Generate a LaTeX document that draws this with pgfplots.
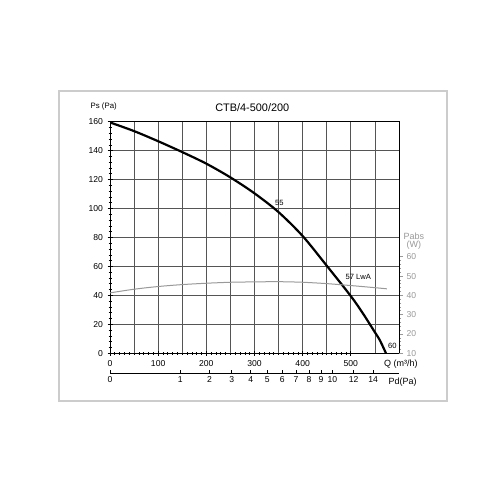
\documentclass[border=0pt]{standalone}
\usepackage{fontspec}
\setmainfont{Liberation Sans}
\usepackage{pgfplots}
\pgfplotsset{compat=1.18}
\definecolor{gridc}{HTML}{555555}
\definecolor{grayc}{HTML}{999999}
\definecolor{framec}{HTML}{CCCCCC}
\begin{document}
\begin{tikzpicture}[x=1pt,y=1pt]
\path[fill=white] (0,0) rectangle (500,500);
\draw[framec,line width=1.5pt] (59,99) rectangle (447,409);
% main axis
\begin{axis}[
  at={(110pt,146.7pt)}, anchor=south west,
  scale only axis, width=289pt, height=231.6pt,
  xmin=0, xmax=600, ymin=0, ymax=160,
  xtick={0,100,...,500}, ytick={0,20,...,160},
  extra x ticks={50,150,...,550}, extra x tick labels={},
  extra x tick style={grid=major, major tick length=0pt},
  minor x tick num=9, minor y tick num=4,
  xtick pos=bottom, ytick pos=left,
  tick align=center, major tick length=5pt, minor tick length=3pt,
  grid=major,
  major grid style={gridc, line width=0.8pt},
  axis line style={black, line width=1pt},
  tick style={black, line width=0.7pt},
  ticklabel style={font=\fontsize{8.6}{9}\selectfont},
  /pgf/number format/assume math mode=true,
  yticklabel style={xshift=-1pt},
  xticklabel style={yshift=-1pt},
]
\addplot[black, line width=2.2pt, smooth, tension=0.5] coordinates {
(0,159.5) (50,153.5) (100,146.5) (150,139) (200,131) (250,121.5)
(300,110.5) (350,97.5) (400,81) (450,60.5) (500,39.5) (525,27.6)
(550,14.5) (560,9.2) (573,0)};
\end{axis}
% right axis Pabs
\begin{axis}[
  at={(110pt,146.7pt)}, anchor=south west,
  scale only axis, width=289pt, height=231.6pt,
  xmin=0, xmax=600, ymin=10, ymax=130,
  axis y line*=right, axis x line=none,
  ytick={10,20,...,60}, minor y tick num=4,
  tick align=outside, major tick length=4pt, minor tick length=2pt,
  axis line style={black, line width=1pt},
  tick style={grayc, line width=0.7pt},
  ticklabel style={font=\fontsize{8.6}{9}\selectfont, text=grayc},
  /pgf/number format/assume math mode=true,
]
\addplot[grayc, line width=1pt, smooth] coordinates {
(0,41.3) (50,43.2) (100,44.6) (150,45.6) (200,46.3) (250,46.8)
(300,47.0) (350,47.1) (400,46.8) (450,46.1) (500,45.1) (550,44.0) (575,43.4)};
\end{axis}
% Pd axis
\begin{axis}[
  at={(110pt,126.7pt)}, anchor=south west,
  scale only axis, width=289pt, height=1pt,
  xmin=0, xmax=600, ymin=0, ymax=1,
  axis x line*=bottom, axis y line=none,
  xtick={0,146,206.5,252.9,292,326.5,357.6,386.3,413,438,461.7,505.8,546.3},
  xticklabels={0,1,2,3,4,5,6,7,8,9,10,12,14},
  tick align=inside, major tick length=3pt,
  axis line style={black, line width=1pt},
  tick style={black, line width=0.7pt},
  ticklabel style={font=\fontsize{8.6}{9}\selectfont},
]
\addplot[draw=none] coordinates {(0,0) (600,0)};
\end{axis}
% texts
\node[font=\fontsize{10.9}{12}\selectfont] at (252.3,392.3) {CTB/4-500/200};
\node[font=\fontsize{7.8}{9}\selectfont] at (103.7,393.3) {Ps (Pa)};
\node[font=\fontsize{9}{10}\selectfont] at (400.8,135.7) {Q (m³/h)};
\node[font=\fontsize{9}{10}\selectfont] at (402.7,117.7) {Pd(Pa)};
\node[font=\fontsize{9}{10}\selectfont, text=grayc] at (413.8,264) {Pabs};
\node[font=\fontsize{9}{10}\selectfont, text=grayc] at (413.8,254.7) {(W)};
\node[font=\fontsize{7.6}{8}\selectfont] at (279.3,296.7) {55};
\node[font=\fontsize{7.6}{8}\selectfont] at (358.3,222.7) {57 LwA};
\node[font=\fontsize{7.6}{8}\selectfont] at (392.3,154.3) {60};
\end{tikzpicture}
\end{document}
